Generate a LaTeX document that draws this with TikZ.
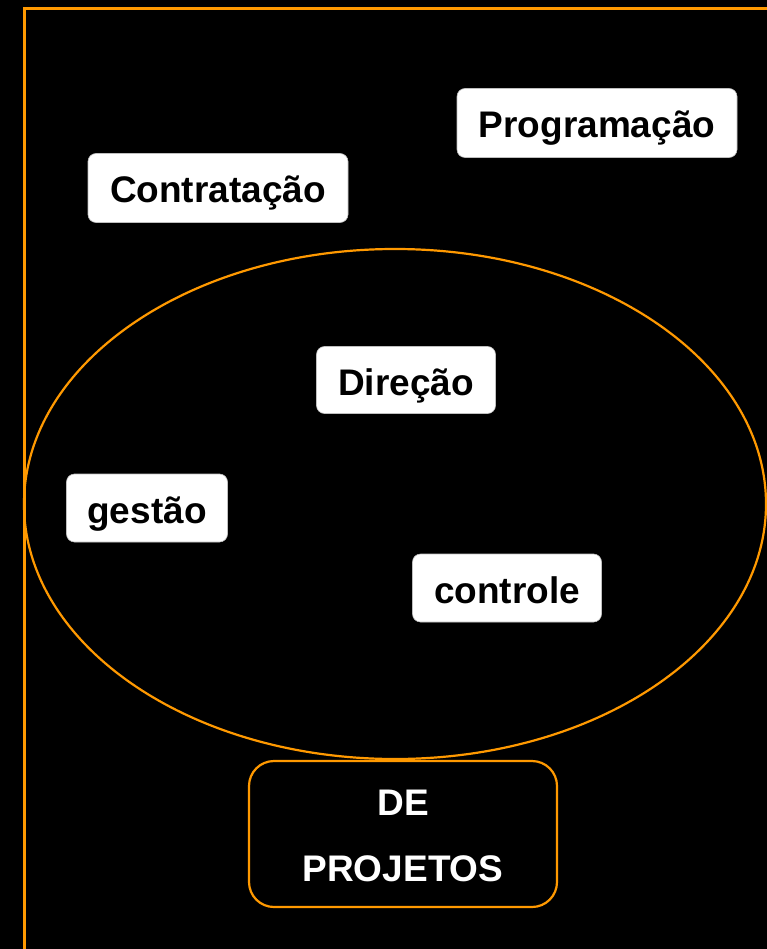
\documentclass[tikz,border=0pt]{standalone}
\usepackage{fontspec}
\setmainfont{Liberation Sans}
\usetikzlibrary{shapes.geometric}
\definecolor{frameorange}{HTML}{FF9900}
\begin{document}
\begin{tikzpicture}[x=1pt,y=-1pt,
  labelbox/.style={draw=gray!50, line width=0.6pt, fill=white, rounded corners=8pt,
    text=black, font=\bfseries\fontsize{37}{44}\selectfont, inner sep=0pt,
    text height=32pt, text depth=2pt},
  orangeline/.style={draw=frameorange, line width=2.2pt}]
\fill[black] (0,0) rectangle (767,949);
\useasboundingbox (0,0) rectangle (767,949);
\coordinate (fbl) at (24,949);
\coordinate (ftl) at (24,9);
\coordinate (ftr) at (767,9);
\draw[frameorange, line width=3pt] (fbl) -- (ftl) -- (ftr);
\node[orangeline, ellipse, minimum width=742pt, minimum height=510pt, inner sep=0pt] (scopeell) at (395,504) {};
\node[labelbox, minimum width=280pt, minimum height=69pt] (prog) at (597,123) {Programação};
\node[labelbox, minimum width=260pt, minimum height=69pt] (contr) at (218,188) {Contratação};
\node[labelbox, minimum width=179pt, minimum height=67pt] (direc) at (406,380) {Direção};
\node[labelbox, minimum width=161pt, minimum height=68pt] (gest) at (147,508) {gestão};
\node[labelbox, minimum width=189pt, minimum height=68pt] (ctrl) at (507,588) {controle};
\node[orangeline, fill=black, rounded corners=25pt, minimum width=308pt, minimum height=146pt,
  inner sep=0pt] (proj) at (403,834) {};
\node[text=white, align=center, font=\bfseries\fontsize{37}{66}\selectfont, inner sep=0pt]
  (projtext) at (403,836) {DE\\PROJETOS};
\end{tikzpicture}
\end{document}
